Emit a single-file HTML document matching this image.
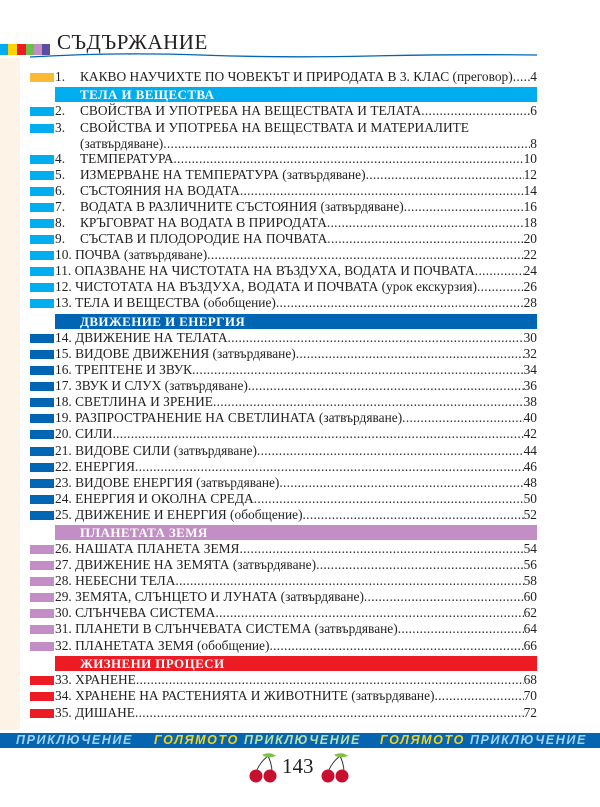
<!DOCTYPE html>
<html><head><meta charset="utf-8"><style>
body{margin:0;width:600px;height:807px;background:#fff;position:relative;overflow:hidden;font-family:"Liberation Serif",serif;color:#231f20}
.strip{position:absolute;left:0;top:58px;width:20px;height:672px;background:#fdf3e6}
.row{position:absolute;left:30px;width:507px;height:16px;display:flex;align-items:center;font-size:13.4px;line-height:16px}
.m{width:24px;height:9px;margin-right:1px;flex:none}
.n{width:25px;flex:none}
.t{white-space:nowrap;flex:none}
.d{flex:1;overflow:hidden;white-space:nowrap;letter-spacing:0.3px}
.p{flex:none}
.h{position:absolute;left:55px;width:482px;height:15px;color:#fff;font-weight:bold;font-size:13px;line-height:15px;padding-left:25px;box-sizing:border-box;letter-spacing:0.4px}
</style></head><body>
<div class="strip"></div>
<div style="position:absolute;left:0;top:44px;width:50px;height:11px;display:flex">
<div style="width:8px;background:#00aeef"></div><div style="width:9px;background:#ffd200"></div><div style="width:9px;background:#ed1c24"></div><div style="width:8px;background:#6cbf4a"></div><div style="width:8px;background:#c38dc6"></div><div style="width:8px;background:#5b4ea1"></div></div>
<div style="position:absolute;left:57px;top:30px;font-size:21px;letter-spacing:0.5px">СЪДЪРЖАНИЕ</div>
<svg style="position:absolute;left:0;top:51px" width="600" height="10"><path d="M30 6 Q120 1 200 4 T370 5 T537 4" stroke="#0066b3" stroke-width="1.3" fill="none"/></svg>
<div id="c"></div>
<div style="position:absolute;left:0;top:733px;width:600px;height:15px;background:#0565b0;font-family:'Liberation Sans',sans-serif;font-weight:bold;font-style:italic;font-size:12.5px;line-height:15px;white-space:nowrap;letter-spacing:1.6px">
<span style="position:absolute;left:16px;color:#9fd3ef">ПРИКЛЮЧЕНИЕ</span>
<span style="position:absolute;left:154px;color:#f7d117">ГОЛЯМОТО <span style="color:#b8e0a0">ПРИКЛЮЧЕНИЕ</span></span>
<span style="position:absolute;left:380px;color:#f7d117">ГОЛЯМОТО <span style="color:#9fd3ef">ПРИКЛЮЧЕНИЕ</span></span>
</div>
<div style="position:absolute;left:282px;top:754px;font-size:21px">143</div>
<svg style="position:absolute;left:248px;top:752px" width="110" height="32">
<g><path d="M20 4 Q12 10 8 20 M20 4 Q24 12 24 20" stroke="#333" fill="none"/><path d="M14 3 Q22 -1 28 4 Q20 7 14 3" fill="#7cc142"/><circle cx="8" cy="24" r="6.5" fill="#c8102e"/><circle cx="22" cy="24" r="6.5" fill="#c8102e"/></g>
<g transform="translate(72,0)"><path d="M20 4 Q12 10 8 20 M20 4 Q24 12 24 20" stroke="#333" fill="none"/><path d="M14 3 Q22 -1 28 4 Q20 7 14 3" fill="#7cc142"/><circle cx="8" cy="24" r="6.5" fill="#c8102e"/><circle cx="22" cy="24" r="6.5" fill="#c8102e"/></g>
</svg>
<script>
var O='#fbb934',L='#00aeef',D='#0066b3',P='#c38dc6',R='#ed1c24';
var rows=[
[77,O,'1.','КАКВО НАУЧИХТЕ ПО ЧОВЕКЪТ И ПРИРОДАТА В 3. КЛАС (преговор)','4'],
[94,L,'H','ТЕЛА И ВЕЩЕСТВА'],
[111,L,'2.','СВОЙСТВА И УПОТРЕБА НА ВЕЩЕСТВАТА И ТЕЛАТА ','6'],
[128,L,'3.','СВОЙСТВА И УПОТРЕБА НА ВЕЩЕСТВАТА И МАТЕРИАЛИТЕ',''],
[144,null,'','(затвърдяване)','8'],
[159,L,'4.','ТЕМПЕРАТУРА ','10'],
[175,L,'5.','ИЗМЕРВАНЕ НА ТЕМПЕРАТУРА (затвърдяване)','12'],
[191,L,'6.','СЪСТОЯНИЯ НА ВОДАТА','14'],
[207,L,'7.','ВОДАТА В РАЗЛИЧНИТЕ СЪСТОЯНИЯ (затвърдяване)','16'],
[223,L,'8.','КРЪГОВРАТ НА ВОДАТА В ПРИРОДАТА','18'],
[239,L,'9.','СЪСТАВ И ПЛОДОРОДИЕ НА ПОЧВАТА ','20'],
[255,L,'10.','ПОЧВА (затвърдяване)','22'],
[271,L,'11.','ОПАЗВАНЕ НА ЧИСТОТАТА НА ВЪЗДУХА, ВОДАТА И ПОЧВАТА','24'],
[287,L,'12.','ЧИСТОТАТА НА ВЪЗДУХА, ВОДАТА И ПОЧВАТА (урок екскурзия)','26'],
[303,L,'13.','ТЕЛА И ВЕЩЕСТВА (обобщение)','28'],
[321,D,'H','ДВИЖЕНИЕ И ЕНЕРГИЯ'],
[338,D,'14.','ДВИЖЕНИЕ НА ТЕЛАТА ','30'],
[354,D,'15.','ВИДОВЕ ДВИЖЕНИЯ (затвърдяване) ','32'],
[370,D,'16.','ТРЕПТЕНЕ И ЗВУК ','34'],
[386,D,'17.','ЗВУК И СЛУХ (затвърдяване) ','36'],
[402,D,'18.','СВЕТЛИНА И ЗРЕНИЕ','38'],
[418,D,'19.','РАЗПРОСТРАНЕНИЕ НА СВЕТЛИНАТА (затвърдяване) ','40'],
[434,D,'20.','СИЛИ','42'],
[451,D,'21.','ВИДОВЕ СИЛИ (затвърдяване)','44'],
[467,D,'22.','ЕНЕРГИЯ ','46'],
[483,D,'23.','ВИДОВЕ ЕНЕРГИЯ (затвърдяване) ','48'],
[499,D,'24.','ЕНЕРГИЯ И ОКОЛНА СРЕДА','50'],
[515,D,'25.','ДВИЖЕНИЕ И ЕНЕРГИЯ (обобщение)','52'],
[532,P,'H','ПЛАНЕТАТА ЗЕМЯ'],
[549,P,'26.','НАШАТА ПЛАНЕТА ЗЕМЯ ','54'],
[565,P,'27.','ДВИЖЕНИЕ НА ЗЕМЯТА (затвърдяване) ','56'],
[581,P,'28.','НЕБЕСНИ ТЕЛА ','58'],
[597,P,'29.','ЗЕМЯТА, СЛЪНЦЕТО И ЛУНАТА (затвърдяване) ','60'],
[613,P,'30.','СЛЪНЧЕВА СИСТЕМА ','62'],
[629,P,'31.','ПЛАНЕТИ В СЛЪНЧЕВАТА СИСТЕМА (затвърдяване) ','64'],
[646,P,'32.','ПЛАНЕТАТА ЗЕМЯ (обобщение)','66'],
[663,R,'H','ЖИЗНЕНИ ПРОЦЕСИ'],
[680,R,'33.','ХРАНЕНЕ','68'],
[696,R,'34.','ХРАНЕНЕ НА РАСТЕНИЯТА И ЖИВОТНИТЕ (затвърдяване)','70'],
[713,R,'35.','ДИШАНЕ ','72']];
var dots=new Array(200).join('.');var h='';
rows.forEach(function(r){
 if(r[2]=='H'){h+='<div class="h" style="top:'+(r[0]-7.5)+'px;background:'+r[1]+'">'+r[3]+'</div>';return;}
 var num=r[2].length==3?'<span class="t">'+r[2]+'&nbsp;</span>':'<span class="n">'+r[2]+'</span>';
 h+='<div class="row" style="top:'+(r[0]-8)+'px"><div class="m" style="background:'+(r[1]||'transparent')+'"></div>'+num+'<span class="t">'+r[3]+'</span>'+(r[4]?'<span class="d">'+dots+'</span><span class="p">'+r[4]+'</span>':'')+'</div>';
});
document.getElementById('c').innerHTML=h;
</script>
</body></html>
